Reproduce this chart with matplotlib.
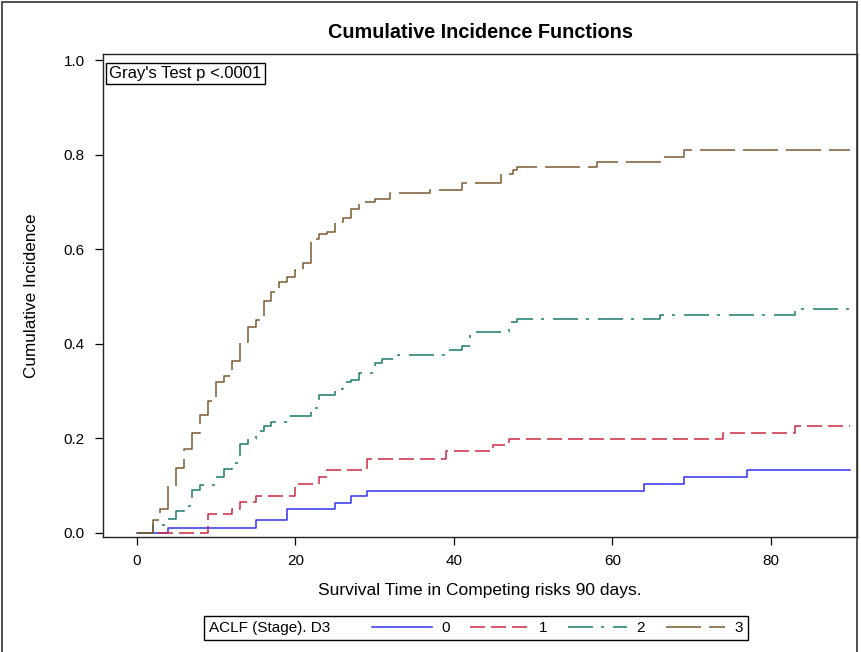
import matplotlib
matplotlib.use("Agg")
import matplotlib.pyplot as plt
from matplotlib.patches import Rectangle

plt.rcParams['font.family'] = ['Liberation Sans', 'DejaVu Sans']
plt.rcParams['lines.scale_dashes'] = False

# ---- data ----
groups = ["0", "1", "2", "3"]
legend_title = "ACLF (Stage). D3"

t0 = [0, 4, 15, 19, 25, 27, 29, 64, 69, 77, 90]
c0 = [0, 0.011, 0.027, 0.051, 0.063, 0.078, 0.089, 0.104, 0.118, 0.132, 0.132]

t1 = [0, 9, 12, 13, 15, 20, 23, 24, 29, 39, 45, 47, 74, 83, 90]
c1 = [0, 0.040, 0.051, 0.066, 0.077, 0.104, 0.118, 0.132, 0.157, 0.172, 0.185,
      0.198, 0.212, 0.226, 0.226]

t2 = [0, 2, 4, 5, 6, 7, 8, 10, 11, 12, 13, 14, 15, 16, 17, 19, 22, 23, 25, 26,
      27, 28, 30, 31, 33, 39, 41, 42, 47, 48, 66, 83, 90]
c2 = [0, 0.017, 0.029, 0.045, 0.057, 0.091, 0.101, 0.118, 0.135, 0.147, 0.188,
      0.198, 0.216, 0.226, 0.235, 0.246, 0.264, 0.292, 0.305, 0.318, 0.323,
      0.338, 0.359, 0.367, 0.375, 0.387, 0.394, 0.424, 0.445, 0.452, 0.461,
      0.473, 0.482]

t3 = [0, 2, 3, 4, 5, 6, 7, 8, 9, 10, 11, 12, 13, 14, 15, 16, 17, 18, 19, 20,
      21, 22, 23, 24, 25, 26, 27, 28, 30, 32, 37, 41, 46, 47.5, 48, 58, 66,
      69, 90]
c3 = [0, 0.027, 0.050, 0.098, 0.137, 0.177, 0.212, 0.249, 0.278, 0.319, 0.331,
      0.364, 0.404, 0.436, 0.450, 0.490, 0.510, 0.531, 0.542, 0.556, 0.570,
      0.622, 0.632, 0.637, 0.657, 0.665, 0.685, 0.700, 0.705, 0.719, 0.725,
      0.739, 0.759, 0.767, 0.774, 0.785, 0.794, 0.810, 0.810]

x_ticks = [0, 20, 40, 60, 80]
y_ticks = [0.0, 0.2, 0.4, 0.6, 0.8, 1.0]
y_tick_labels = ["0.0", "0.2", "0.4", "0.6", "0.8", "1.0"]

title = "Cumulative Incidence Functions"
xlabel = "Survival Time in Competing risks 90 days."
ylabel = "Cumulative Incidence"
note = "Gray's Test p <.0001"

# ---- styles ----
colors = ["#3030EE", "#CC2A40", "#1B7A6C", "#7A5A32"]
px = 0.72  # points per pixel at 100 dpi
dashes = [None, (15 * px, 6 * px), (25 * px, 8 * px, 3 * px, 9 * px), (35 * px, 8 * px)]

W, H = 861, 652
fig = plt.figure(figsize=(W / 100, H / 100), dpi=100)
ax_l, ax_r, ax_t, ax_b = 103, 857, 54, 537
ax = fig.add_axes([ax_l / W, 1 - ax_b / H, (ax_r - ax_l) / W, (ax_b - ax_t) / H])

series = [(t0, c0), (t1, c1), (t2, c2), (t3, c3)]
handles = []
for (t, c), col, d, g in zip(series, colors, dashes, groups):
    ln, = ax.plot(t, c, drawstyle='steps-post', color=col, lw=1.1, label=g)
    if d is not None:
        ln.set_dashes(d)
    handles.append(ln)

ax.set_xlim(-4.25, 90.85)
ax.set_ylim(-0.009, 1.0127)
ax.set_xticks(x_ticks)
ax.set_xticklabels([str(v) for v in x_ticks])
ax.set_yticks(y_ticks)
ax.set_yticklabels(y_tick_labels)
ax.tick_params(direction='out', length=6, width=0.9, labelsize=11, colors='black')
ax.tick_params(axis='y', pad=7)
ax.tick_params(axis='x', pad=6)
for s in ax.spines.values():
    s.set_linewidth(1.0)
    s.set_color('#222222')

ax.set_xlabel(xlabel, fontsize=12.5, labelpad=11)
ax.set_ylabel(ylabel, fontsize=12.3, labelpad=18)

fig.text((ax_l + ax_r) / 2 / W, 1 - 33 / H, title, ha='center', va='center',
         fontsize=14.3, fontweight='bold')

ax.text(0.008, 0.975, note, transform=ax.transAxes, ha='left', va='top', fontsize=12,
        bbox=dict(boxstyle='square,pad=0.2', fc='white', ec='black', lw=1.0))

leg = fig.legend(handles=handles, labels=groups, title=legend_title + "     ",
                 ncol=4, loc='center', bbox_to_anchor=(476 / W, 1 - 628 / H),
                 frameon=True, fancybox=False, edgecolor='black', framealpha=1,
                 fontsize=11, title_fontsize=11, handlelength=3.9,
                 handletextpad=0.6, columnspacing=1.35, borderpad=0.3)
leg.get_frame().set_linewidth(1.0)
# put the legend title on the left of the entries
vp = leg._legend_box
title_box, hbox = vp.get_children()
vp._children = [hbox]
hbox._children = [title_box] + list(hbox.get_children())
hbox.align = 'center'

# outer border of the graph
fig.patches.append(Rectangle((2 / W, -0.05), (857 - 2) / W, 1.05 - 2 / H,
                             transform=fig.transFigure, fill=False, ec='#333333', lw=1.2))

fig.savefig("out.png", dpi=100)
